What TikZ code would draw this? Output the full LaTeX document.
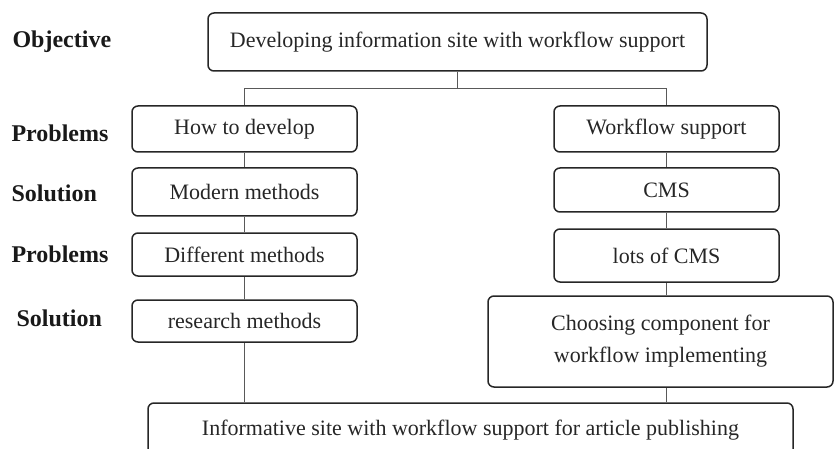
\documentclass[tikz,border=0pt]{standalone}
\usepackage{fontspec}
\setmainfont{Liberation Serif}
\usetikzlibrary{positioning}

\begin{document}
\begin{tikzpicture}[x=1pt,y=-1pt,
  stepbox/.style={draw=black!85,line width=1.5pt,rounded corners=6pt,
    text=black!85,font=\fontsize{22}{32}\selectfont,inner sep=0pt,align=center},
  tag/.style={anchor=west,text=black!90,font=\bfseries\fontsize{24}{28}\selectfont},
  link/.style={draw=black!65,line width=0.8pt}]
\clip (0,0) rectangle (835,449);
% row labels
\node[tag] (lobj) at (9,42) {Objective};
\node[tag] (lp1) at (8,133) {Problems};
\node[tag] (ls1) at (8,193) {Solution};
\node[tag] (lp2) at (8,254) {Problems};
\node[tag] (ls2) at (13,318) {Solution};
% boxes
\node[stepbox,minimum width=499pt,minimum height=58pt] (obj) at (457.5,42) {Developing information site with workflow support};
\node[stepbox,minimum width=225pt,minimum height=46pt] (p1) at (244.5,129) {How to develop};
\node[stepbox,minimum width=225pt,minimum height=48pt] (s1) at (244.5,192) {Modern methods};
\node[stepbox,minimum width=225pt,minimum height=43pt] (p2) at (244.5,254.5) {Different methods};
\node[stepbox,minimum width=225pt,minimum height=42pt] (s2) at (244.5,321) {research methods};
\node[stepbox,minimum width=225pt,minimum height=46pt] (p3) at (666.5,129) {Workflow support};
\node[stepbox,minimum width=225pt,minimum height=44pt] (s3) at (666.5,190) {CMS};
\node[stepbox,minimum width=225pt,minimum height=53pt] (p4) at (666.5,255.5) {lots of CMS};
\node[stepbox,minimum width=345pt,minimum height=91pt] (s4) at (660.5,341.5) {Choosing component for\\workflow implementing};
\node[stepbox,minimum width=645pt,minimum height=54pt] (res) at (470.5,430) {Informative site with workflow support for article publishing};
% connectors
\coordinate (split) at (457.5,88);
\draw[link] (obj.south) -- (split);
\draw[link] (split) -| (p1.north);
\draw[link] (split) -| (p3.north);
\draw[link] (p1) -- (s1);
\draw[link] (s1) -- (p2);
\draw[link] (p2) -- (s2);
\draw[link] (p3) -- (s3);
\draw[link] (s3) -- (p4);
\draw[link] (p4.south) -- (p4.south |- s4.north);
\draw[link] (s2.south) -- (s2.south |- res.north);
\draw[link] (p4.south |- s4.south) -- (p4.south |- res.north);
\end{tikzpicture}
\end{document}
